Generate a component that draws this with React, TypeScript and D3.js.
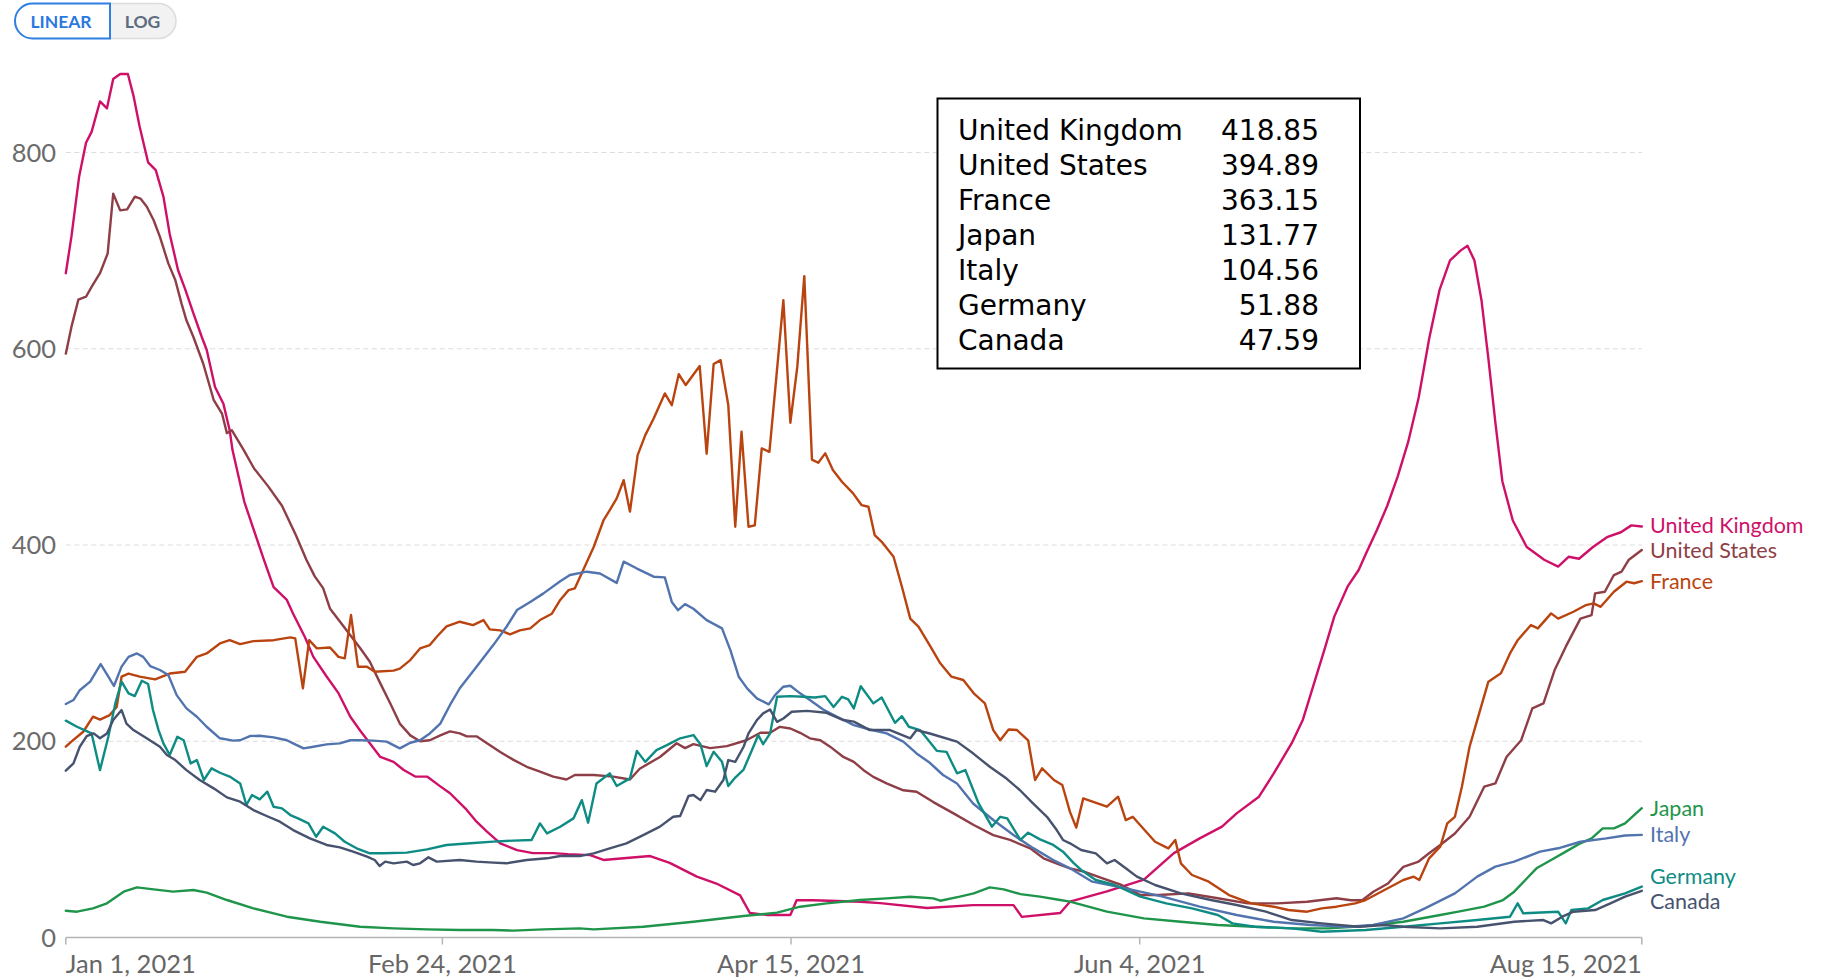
import React from 'react';
import * as d3 from 'd3';

// ---------- data: [day offset from Jan 1 2021, value] ----------
const unitedKingdom: [number, number][] = [
  [0,677],[0.8,714],[1.9,775],[2.9,810],[3.7,821],[4.9,852],[5.9,845],[6.8,875],[7.8,880],[8.9,880],[9.7,858],[10.6,826],[11.8,790],[12.9,782],[14,755],[14.9,717],[16.1,680],[17.1,661],[18.3,636],[19.5,612],[20.2,599],[21.4,561],[22.6,544],[23.5,517],[23.9,497],[25.6,444],[28.4,385],[29.8,357],[31.7,344],[32.6,330],[34.3,306],[35.5,286],[37.4,266],[39.1,249],[40.8,225],[42.2,211],[43.6,198],[45.1,184],[47,179],[48.4,171],[50.1,164],[51.8,164],[53.7,154],[55.1,147],[57.5,130],[58.9,118],[60.4,108],[62.3,96],[64.7,89],[67,86],[69.9,86],[72,85],[75.2,84],[77.1,79],[80.4,81],[83.8,83],[86.6,76],[90.5,62],[93.3,55],[96.7,43],[98.1,25],[100.5,23],[103.9,23],[104.8,38],[107.2,38],[113.9,36.5],[116.8,35],[123.5,30],[130.1,33],[135.9,33],[137.1,21],[142.6,25],[144,36.5],[149.3,47],[154.6,59],[158.9,86],[162.6,101],[165.8,113],[167.9,126.5],[171.1,143.5],[173.2,167],[175.8,198],[177.4,222],[179,259],[180.6,296],[181.9,327],[183.8,357.5],[185.4,374.5],[186.5,392],[188,415],[189.5,440],[191,470],[192.5,505],[194,550],[195.5,610],[197,660],[198.5,690],[200,700],[201,705],[202,690],[203,650],[204,590],[205,525],[206,465],[207.5,425],[209.5,398],[212,385],[214,378],[215.5,388],[217,386],[219,398],[221,408],[223,413],[224.5,420],[226,418.85]
];

const unitedStates: [number, number][] = [
  [0,595],[0.8,622],[1.8,650],[2.9,653],[3.7,663],[4.9,677],[6,697],[6.8,758],[7.8,741],[8.8,742],[9.9,755],[10.7,753],[11.6,745],[12.6,731],[13.5,714],[14.7,687],[15.7,670],[16.6,646],[17.3,629],[18.3,612],[19.7,585],[21.2,548],[22.4,534],[23.1,514],[23.8,517],[25.5,497],[27,478],[29,460],[31,440],[33,410],[34.5,385],[35.7,368],[36.9,356],[37.9,335],[39.3,322],[40.8,308],[42.2,295],[43.6,281],[45.1,259],[46.5,239],[47.9,218],[49.4,206],[50.8,200],[52.2,201],[53.7,206],[55.1,210],[56.5,208],[57.5,205],[58.9,205],[60.4,198],[62.3,189],[64.2,181],[66.1,174],[68,169],[69.9,164],[71.8,161],[73,165.6],[75.7,165.6],[78.5,164],[80.9,161],[82.3,172],[85.2,184],[87.6,198],[88.8,193],[90,197],[92.4,193],[94.8,195],[97.6,201],[99.6,208.6],[101,208.6],[102.4,214.7],[103.9,213],[105.3,208.6],[106.7,203],[108.2,201],[109.6,194.5],[111.5,184],[113,179],[114.4,170.5],[115.8,163.7],[117.7,157],[120.1,150],[122,148.6],[124.4,138],[127.3,126.5],[130.2,114.6],[133,104.4],[135.4,99.4],[138.3,90.8],[140.2,80.7],[142.6,73.9],[144,70.5],[146.1,67],[148.8,60],[151.4,53.5],[154.1,43.3],[156.7,43.3],[161,45],[165.2,40],[169.5,34.8],[173.7,34.8],[178,36.5],[182.2,40],[184.3,38],[185.9,38],[187.5,46.7],[189.6,55],[191.8,72],[193.9,77],[195.5,85.8],[197.1,94.3],[199.2,106],[201.3,123],[203.4,153.7],[205,157],[206.6,184],[208.7,201],[210.3,233.5],[211.9,238.6],[213.5,272.6],[215.1,296.4],[217.2,325],[218.8,328.6],[219.3,350.7],[220.7,352.4],[222,369.4],[223.1,372.8],[224.1,384.7],[226,394.89]
];

const france: [number, number][] = [
  [0,194.5],[0.8,199.6],[2.5,209.7],[3.9,225],[4.9,222],[6.3,226.7],[7.3,235],[8,265.8],[9,269],[10.6,265.8],[12.8,263],[14.9,269],[17.1,270.8],[18.8,286],[20.2,289.5],[22.1,299.7],[23.5,303],[25,299],[26.9,302],[29.8,303],[32.2,305.8],[32.9,304.8],[34,254],[34.9,303],[36,294.6],[37.9,295.6],[39.1,286],[40,284.5],[40.9,328.6],[41.9,276],[43.2,276],[44.3,270.8],[47,272],[47.9,274],[49.4,282.7],[50.8,294.6],[52.2,298],[53.2,306.5],[54.6,317],[56.5,321.8],[58.4,318.4],[59.9,323.5],[60.8,314],[62.3,313],[63.7,309],[65.1,313],[66.6,315],[68,323.5],[69.7,330],[70.9,344],[72.1,354],[73,355.8],[74.2,374.5],[75.7,398],[77.1,425],[78.3,439],[79,447.5],[80,466],[80.9,434],[82,491.6],[83.1,512],[84.3,529],[85.9,554.5],[86.9,542.5],[87.9,574],[88.9,563],[90.9,582.4],[91.9,493],[92.9,584.4],[93.9,588.4],[95,542.6],[96,418.6],[96.9,515.5],[97.9,418.6],[98.8,420],[99.8,498.5],[100.9,495],[101.9,571.5],[102.9,649.6],[103.9,524.6],[104.9,581.7],[105.9,674],[107,487],[107.9,483.8],[108.9,493.4],[110,476.4],[111.3,464.5],[112.9,452.6],[114.1,440.7],[115.1,439],[116,410],[117,403.3],[118.7,388],[119.9,357.5],[121.1,325],[122.3,316.6],[124,296.4],[125.4,279.4],[127,265.8],[128.7,262.4],[130.2,248.8],[131.8,238.6],[133,211.4],[134,201],[135.2,212],[136.4,211.4],[138,201],[139,160.5],[140,172.4],[141.7,160.5],[142.9,155.4],[144,128],[144.9,112],[145.9,141.8],[149.3,133.3],[150.9,143.5],[152,119.7],[153,123],[156.2,97.6],[158.1,90.8],[159.1,99.4],[159.9,75.6],[161.5,63.7],[163.9,56.9],[166.8,43.3],[170,34.8],[173.2,31.4],[175.3,28],[178,26.3],[180.1,29.7],[182.2,31.4],[184.9,34.8],[186.4,38.2],[189.1,48.4],[191.8,58.6],[193.3,62],[194.1,58.6],[195.5,80.7],[197.1,92.5],[198.1,116.3],[199.2,123],[200.2,153.7],[201.3,194.4],[202.4,221.6],[204,260.7],[205.8,269.2],[207.1,289.5],[208.2,303],[210.1,318.4],[211.1,315],[213,330.3],[214,325],[216.2,332],[218,338.8],[219.1,340.5],[220.1,337],[222,352.4],[223.8,362.6],[224.9,361],[226,363.15]
];

const japan: [number, number][] = [
  [0,27.3],[1.6,26.3],[3.9,29.7],[5.9,34.8],[8.3,46.7],[10.2,51.1],[12.6,49.1],[15.4,46.7],[18.3,48.4],[20.2,45.7],[23.1,38.2],[26.9,29.7],[31.7,21.2],[36.5,16.1],[42.2,11],[47,9.3],[51.8,8.3],[56.5,7.6],[61.3,7.6],[64.2,7],[68.5,8.3],[73.7,9.3],[75.7,8.3],[82.8,11],[90,16.1],[97.2,21.9],[102,25.3],[105.3,31.4],[109.1,34.8],[113.9,38.2],[117.7,39.9],[121.1,41.6],[124.4,39.9],[125.4,37.5],[128.2,41.6],[130.2,45],[132.5,51.1],[134.5,49.1],[136.9,44.2],[139.7,41.6],[142.6,38.2],[144,36.5],[149.3,26.3],[154.6,19.5],[159.9,16.1],[165.2,12.7],[170.5,11],[175.8,9.3],[181.1,9.3],[186.4,11.7],[191.8,16.1],[197.1,22.9],[199.7,26.3],[203.4,31.4],[206.1,38.2],[207.7,46.7],[209.3,58.6],[210.9,70.5],[213,79],[215.1,87.5],[217.2,96],[218.8,101],[220.4,111.2],[222,111.2],[223.6,116.3],[226,131.77]
];

const italy: [number, number][] = [
  [0,238],[1.1,242],[2,252],[3.5,260.7],[5,278.7],[6.1,265.8],[6.9,256.3],[8,276],[9,286],[10.2,289.5],[11.1,286],[12.1,276.6],[13.5,272.6],[14.7,267.5],[15.9,247],[17.3,233.5],[18.8,225],[20.2,214.8],[22.1,203],[24,200.6],[25,201],[26.4,205.3],[27.8,205.6],[29.8,204],[31.7,201],[32.6,197.8],[34.1,192.7],[35.5,194.4],[37.4,196.8],[39.3,197.8],[40.8,201],[42.2,201],[44.1,200.6],[46,199.6],[47.9,192.7],[49.4,198.5],[50.8,201],[52.2,208],[53.7,218],[55.1,237],[56.5,254],[58.9,276],[61.3,298],[63.2,316.7],[64.7,333.7],[66.6,342],[68.5,350.7],[70.9,363],[72.3,369.4],[74.7,372.8],[76.6,371],[79,361.4],[80,383],[81.9,376],[84.3,367.7],[85.9,367],[86.9,342],[87.8,333.6],[88.8,339.7],[90,335],[91.9,323.4],[94.1,315],[95.3,292.8],[96.5,265.8],[97.7,253.9],[99.1,243.7],[100.8,237.6],[101.7,247],[102.9,255.6],[103.9,256.6],[105.3,248.8],[106.7,242],[108.6,232.3],[110.6,225],[113,216.5],[115.3,212],[117.7,208],[120.1,199.6],[122,187.6],[123.9,178],[125.8,165.6],[127.8,157],[130.1,136.6],[133,119.7],[135.9,104.4],[138.8,90.8],[141.6,78.9],[144,70.5],[147.2,56.9],[152,50.1],[157.3,41.6],[162.6,31.4],[167.9,22.9],[173.2,16.1],[178.5,12.7],[183.8,11],[187.5,12.7],[191.8,19.5],[194.9,29.7],[199.2,45],[202.4,62],[205,72.2],[207.7,77.3],[211.4,87.5],[214,90.9],[217.2,97.6],[220.9,101],[223.6,104],[226,104.56]
];

const germany: [number, number][] = [
  [0,221],[1.6,214.8],[3.7,208],[4.9,170.6],[6.1,204.6],[7.1,238.6],[8,260.7],[9,248.8],[9.9,246],[10.9,261.6],[11.8,258.3],[12.5,231.8],[13.3,211.4],[14,197.8],[14.9,186],[16,204.6],[16.9,201],[17.9,177.4],[18.8,180.8],[19.8,160.5],[20.9,172.4],[22.1,167.9],[23.5,164],[25,157],[25.9,135],[26.7,145.2],[27.8,140.8],[28.9,148.6],[29.8,133.3],[31,131.6],[32.2,124.8],[33.3,121.4],[34.8,116.3],[35.9,102.7],[36.9,112.9],[38.6,106.1],[40,97.6],[41.7,90.9],[43.6,85.8],[45.5,85.8],[48.9,86.5],[51.8,89.8],[54.6,94.3],[58,96],[61.3,97.7],[64.2,98.7],[66.8,99.4],[68,116.3],[69,106.1],[70.9,112.9],[72.8,121.4],[74,140],[74.9,117],[76.1,157],[78,167.3],[79,154.4],[80.9,162.2],[81.9,190.2],[83.1,179],[84.7,191],[86.2,196],[88.1,203],[90,206.3],[91,197],[91.9,174.7],[92.9,189.3],[94.1,179],[95,154.4],[96,163],[97.2,171.2],[98.4,191],[99.3,206.3],[100,197],[101,208],[102,245.3],[103.9,246],[105.8,245.3],[107.4,244.6],[108.9,246],[110.1,235],[111.3,245.3],[112.2,242.6],[113,233.5],[114,256.1],[115.8,238.6],[117,244.6],[118.9,218.8],[119.9,225.5],[120.9,214.8],[122.5,211.4],[123.7,201],[124.9,190.2],[126.3,189.2],[127.8,167.3],[129,170.6],[130.9,136.6],[132.8,112.9],[134,123],[135,121.4],[136.9,99.4],[138,106.8],[139.7,100],[141.6,94.3],[143,87.5],[144.5,76],[145.6,68.8],[147.7,58.6],[150.4,53.5],[154.1,41.6],[157.8,34.8],[161.5,29.7],[165.2,22.9],[167.3,14.4],[170.5,11],[175.8,9.3],[180.1,5.9],[186.4,7.6],[191.8,11],[197.1,14.4],[202.4,17.8],[207.1,21.2],[208.2,34.8],[209,24.6],[214,26.3],[215.1,14.4],[215.9,28],[218.3,29.7],[220.4,38.2],[223.6,45],[226,51.88]
];

const canada: [number, number][] = [
  [0,170],[1.1,177.4],[2,194.4],[3,205.3],[4,208],[4.9,203],[5.9,208],[6.8,221.6],[8,231.8],[8.7,218],[9.7,211.4],[11.6,203],[13.5,194.4],[14.5,186],[15.7,180.8],[17.3,170.6],[19.2,160.5],[21.2,152],[23.1,142.8],[25,138.4],[26.9,129.9],[28.8,123.8],[30.7,118],[32.6,109.5],[35,101],[37.4,94.3],[39.3,91.8],[41.2,87.5],[43.2,82.4],[44.3,79],[45,72.9],[45.8,77.3],[47,75.6],[48.9,77.3],[49.8,73.9],[50.8,75.6],[52,81.7],[53.2,77.3],[56.5,79],[58.9,77.3],[61.3,76.3],[63.2,75.6],[66.1,79],[69,80.7],[70.9,83.1],[73.7,83],[75.7,85.8],[78,90.8],[80.4,96],[82.8,104.4],[85.2,113],[87.1,123],[88.1,123.8],[89.3,144.2],[90,145.2],[91,140],[91.9,150.3],[93.1,148.6],[94.3,160.5],[95,180.8],[96,179],[97.2,194.4],[97.9,208],[99.1,221.6],[100,228.4],[101,232.3],[102,219.8],[102.9,223.2],[104.1,230],[106.3,231],[109.1,229],[111.5,221.6],[113,220],[115.3,211.4],[118.2,211.4],[121.1,203],[122,211.4],[123.9,207.9],[127.8,199.6],[130.1,187.7],[132.5,174],[134.9,162],[136.8,150.3],[138.7,136.6],[140.7,123],[142.1,109.5],[143,99.4],[144,96],[145.6,89.2],[147.7,85.8],[149.3,75.6],[150.4,79],[152,70.5],[153.6,62],[156.2,53.5],[159.9,45],[164.2,38.2],[167.9,33.1],[172.1,26.3],[175.8,17.8],[180.1,14.4],[185.4,11],[189.1,12.7],[191.8,11],[197.1,9.3],[202.4,11],[207.7,16.1],[211.9,17.8],[213,14.4],[214.6,21.2],[216.2,26.3],[219.3,28],[221.5,34.8],[223.6,41.6],[226,47.59]
];

const seriesNames = ['United Kingdom', 'United States', 'France', 'Japan', 'Italy', 'Germany', 'Canada'];
const seriesValues = [unitedKingdom, unitedStates, france, japan, italy, germany, canada];
const seriesColors = ['#CF1068', '#8E3E46', '#BA4410', '#1F954B', '#5274AE', '#0E8C84', '#47526E'];

const yTicks = [0, 200, 400, 600, 800];
const xTickDates = ['2021-01-01', '2021-02-24', '2021-04-15', '2021-06-04', '2021-08-15'];
const xTickLabels = ['Jan 1, 2021', 'Feb 24, 2021', 'Apr 15, 2021', 'Jun 4, 2021', 'Aug 15, 2021'];

const START = Date.UTC(2021, 0, 1);
const DAY_MS = 86400000;

export default function App() {
  const W = 1821, H = 978;
  const x = d3.scaleUtc()
    .domain([new Date(START), new Date(Date.UTC(2021, 7, 15))])
    .range([65.8, 1641.8]);
  const y = d3.scaleLinear().domain([0, 800]).range([937.5, 152.5]);

  const line = d3.line<[number, number]>()
    .x(d => x(new Date(START + d[0] * DAY_MS)))
    .y(d => y(d[1]));

  const series = seriesNames.map((name, i) => ({
    name,
    color: seriesColors[i],
    data: seriesValues[i],
    last: seriesValues[i][seriesValues[i].length - 1][1],
  }));

  // legend label placement with collision avoidance
  const gap = 25;
  const labels = series.map(s => ({ name: s.name, color: s.color, y: y(s.last) }))
    .sort((a, b) => a.y - b.y);
  for (let iter = 0; iter < 100; iter++) {
    let moved = false;
    for (let i = 0; i < labels.length - 1; i++) {
      const d = labels[i + 1].y - labels[i].y;
      if (d < gap - 0.01) {
        const m = (gap - d) / 2;
        labels[i].y -= m;
        labels[i + 1].y += m;
        moved = true;
      }
    }
    if (!moved) break;
  }

  const tooltipRows = [...series].sort((a, b) => b.last - a.last);
  const plotLeft = x.range()[0];
  const plotRight = x.range()[1];

  return (
    <svg width={W} height={H} style={{ position: 'absolute', left: 0, top: 0, background: '#fff' }}
      fontFamily="Lato, sans-serif">
      {/* scale toggle */}
      <g>
        <path d="M110,3.5 H158.5 A17.5,17.5 0 0 1 158.5,38.5 H110 Z" fill="#f2f2f2" stroke="#dcdcdc" strokeWidth={1.5} />
        <path d="M110,3.5 H32.5 A17.5,17.5 0 0 0 32.5,38.5 H110 Z" fill="#ffffff" stroke="#2f7fe3" strokeWidth={2} />
        <text x={61} y={27.5} textAnchor="middle" fontSize={17.5} fontWeight={700} fill="#2a78e0">LINEAR</text>
        <text x={142.5} y={27.5} textAnchor="middle" fontSize={17.5} fontWeight={700} fill="#5d6b7e">LOG</text>
      </g>

      {/* gridlines */}
      {yTicks.filter(t => t > 0).map(t => (
        <line key={t} x1={plotLeft} x2={plotRight} y1={y(t)} y2={y(t)}
          stroke="#dddddd" strokeWidth={1} strokeDasharray="5,3.5" />
      ))}
      {/* y labels */}
      {yTicks.map(t => (
        <text key={t} x={56} y={y(t) + 9} textAnchor="end" fontSize={25.5} fill="#6b6b6b">{t}</text>
      ))}

      {/* x axis */}
      <line x1={plotLeft} x2={plotRight} y1={y(0)} y2={y(0)} stroke="#b5b5b5" strokeWidth={1.5} />
      {xTickDates.map((ds, i) => {
        const xv = x(new Date(ds + 'T00:00:00Z'));
        const anchor = i === 0 ? 'start' : i === xTickDates.length - 1 ? 'end' : 'middle';
        return (
          <g key={ds}>
            <line x1={xv} x2={xv} y1={y(0)} y2={y(0) + 7} stroke="#b5b5b5" strokeWidth={1.5} />
            <text x={xv} y={972.5} textAnchor={anchor} fontSize={25.5} fill="#666">{xTickLabels[i]}</text>
          </g>
        );
      })}

      {/* lines */}
      {series.map(s => (
        <path key={s.name} d={line(s.data) || ''} fill="none" stroke={s.color} strokeWidth={2.4}
          strokeLinejoin="round" strokeLinecap="round" />
      ))}

      {/* end labels */}
      {labels.map(l => (
        <text key={l.name} x={1650} y={l.y + 7.5} fontSize={21.5} fill={l.color}>{l.name}</text>
      ))}

      {/* tooltip box */}
      <g fontFamily="'DejaVu Sans', sans-serif">
        <rect x={937.5} y={98.5} width={422.5} height={270} fill="#fff" stroke="#000" strokeWidth={2} />
        {tooltipRows.map((s, i) => (
          <g key={s.name}>
            <text x={958} y={139.5 + i * 35} fontSize={28} fill="#000">{s.name}</text>
            <text x={1319} y={139.5 + i * 35} fontSize={28} fill="#000" textAnchor="end">{s.last.toFixed(2)}</text>
          </g>
        ))}
      </g>
    </svg>
  );
}
